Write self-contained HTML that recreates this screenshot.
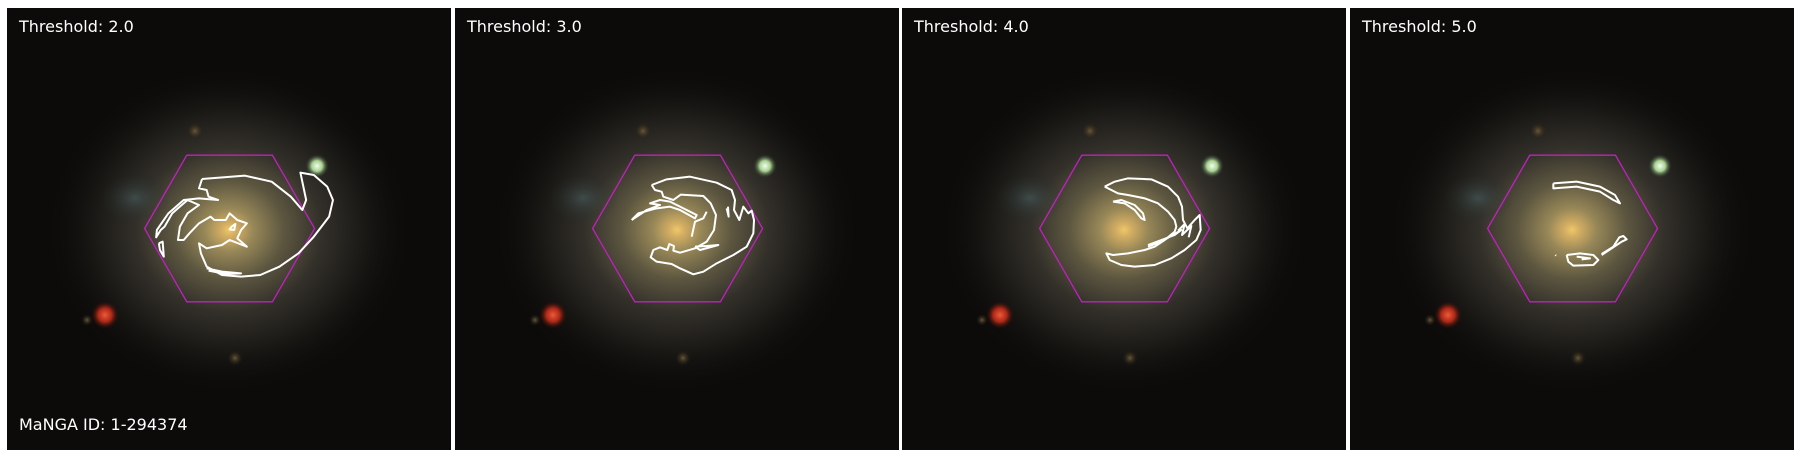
<!DOCTYPE html>
<html><head><meta charset="utf-8">
<style>
html,body{margin:0;padding:0;background:#fff;width:1800px;height:457px;overflow:hidden}
svg{display:block}
text{font-family:"DejaVu Sans","Liberation Sans",sans-serif;font-size:16px;fill:#fff}
</style></head>
<body>
<svg id="fig" width="1800" height="457" viewBox="0 0 1800 457" xmlns="http://www.w3.org/2000/svg">
<defs>
<radialGradient id="gal" cx="0.5" cy="0.5" r="0.5">
<stop offset="0" stop-color="#f0c868"/>
<stop offset="0.04" stop-color="#d4ae62"/>
<stop offset="0.13" stop-color="#988858"/>
<stop offset="0.3" stop-color="#5c5640"/>
<stop offset="0.5" stop-color="#33302a"/>
<stop offset="0.75" stop-color="#181714"/>
<stop offset="1" stop-color="#0c0b0a" stop-opacity="0"/>
</radialGradient>
<radialGradient id="red" r="0.5"><stop offset="0" stop-color="#f05838"/><stop offset="0.5" stop-color="#a82818"/><stop offset="1" stop-color="#300a06" stop-opacity="0"/></radialGradient>
<radialGradient id="grn" r="0.5"><stop offset="0" stop-color="#f0fff0"/><stop offset="0.45" stop-color="#a8d090"/><stop offset="1" stop-color="#203020" stop-opacity="0"/></radialGradient>
<radialGradient id="ylw" r="0.5"><stop offset="0" stop-color="#6a5838"/><stop offset="1" stop-color="#201a10" stop-opacity="0"/></radialGradient>
<radialGradient id="blu" r="0.5"><stop offset="0" stop-color="#4a6060" stop-opacity="0.6"/><stop offset="1" stop-color="#202a2a" stop-opacity="0"/></radialGradient>
</defs>
</svg>
<script>
const thresholds = ["2.0","3.0","4.0","5.0"];
const panelLeft = [7,455,902,1350];
// contours per panel in zoom-crop coordinates
const contours1 = [
 [[528,537],[640,527],[710,545],[760,590],[790,630],[800,600],[785,518],[820,525],[855,560],[870,600],[860,650],[820,710],[780,760],[730,800],[680,825],[630,830],[580,825],[540,800],[525,760],[520,730],[540,745],[580,735],[600,720],[645,740],[620,715],[630,690],[645,670],[620,660],[600,640],[590,660],[560,660],[550,650],[520,670],[495,700],[480,720],[465,720],[470,680],[490,640],[520,615],[490,600],[470,620],[450,640],[430,680],[420,690],[408,712],[410,690],[440,640],[480,600],[520,595],[570,600],[545,590],[540,570],[520,565],[528,537]],
 [[415,730],[425,725],[428,770],[418,750],[415,730]],
 [[540,805],[580,815],[630,820],[590,822],[545,812]],
 [[605,680],[615,672],[612,690],[600,688],[605,680]]
];
const contours2 = [
 [[215,135],[260,118],[330,110],[410,128],[455,150],[465,180],[462,210],[478,240],[490,200],[505,220],[515,212],[522,240],[520,280],[500,320],[460,345],[410,370],[370,395],[340,403],[300,385],[275,372],[230,365],[212,352],[220,330],[240,322],[262,330],[268,312],[282,318],[280,332],[300,338],[345,325],[380,305],[402,270],[408,225],[392,190],[370,168],[302,164],[280,180],[250,170],[245,155],[225,150],[215,135]],
 [[155,240],[175,220],[230,205],[270,200],[300,210],[345,235],[350,225],[300,200],[270,185],[240,180],[210,190],[240,195],[200,210],[155,240]],
 [[335,290],[345,245],[370,235],[380,215]],
 [[345,320],[380,318],[415,315],[360,330],[345,320]],
 [[440,205],[446,230],[444,200]]
];
const contours3 = [
 [[230,140],[260,125],[300,115],[370,118],[420,140],[450,170],[462,200],[465,240],[478,265],[500,240],[515,225],[518,270],[505,300],[470,330],[430,355],[380,375],[320,380],[280,375],[245,360],[235,340],[255,345],[300,340],[350,330],[380,320],[410,300],[440,275],[445,260],[440,240],[420,215],[390,190],[350,175],[300,165],[270,160],[250,150],[230,140]],
 [[255,185],[280,180],[320,195],[345,220],[350,240],[340,235],[320,210],[290,190],[255,185]],
 [[360,315],[400,300],[440,285],[460,270],[400,305],[360,320]],
 [[450,272],[470,252],[462,285],[490,258],[482,292]]
];
const contours4 = [
 [[760,550],[830,545],[900,560],[945,585],[960,610],[940,600],[900,575],[830,560],[760,565],[760,550]],
 [[800,765],[840,760],[880,765],[895,780],[880,795],[820,797],[805,785],[800,765]],
 [[830,770],[870,775],[845,778]],
 [[905,765],[950,735],[965,725],[980,718],[970,708],[958,712],[940,740],[905,762]],
 [[766,765],[768,767]]
];
const allContours = [contours1, contours2, contours3, contours4];
const contourTransforms = ["scale(0.3827,0.33333)","translate(580,140) scale(0.33333)","translate(1028,140) scale(0.33333)","translate(1300,0) scale(0.33333)"];

const NS = "http://www.w3.org/2000/svg";
const svg = document.getElementById('fig');
function mk(tag, attrs, parent){const e=document.createElementNS(NS,tag);for(const k in attrs)e.setAttribute(k,attrs[k]);(parent||svg).appendChild(e);return e;}

const defs = svg.querySelector('defs');
const cp = mk('clipPath',{id:'pclip'},defs);
mk('rect',{x:0,y:0,width:444,height:442},cp);

thresholds.forEach((t,i)=>{
  const g = mk('g',{transform:`translate(${panelLeft[i]},8)`,'clip-path':'url(#pclip)'});
  
  
  const bg = mk('rect',{x:0,y:0,width:444,height:442,fill:'#0c0b0a'},g);
  
  
  mk('ellipse',{cx:222,cy:222,rx:185,ry:165,fill:'url(#gal)'},g);
  mk('ellipse',{cx:128,cy:190,rx:35,ry:25,fill:'url(#blu)'},g);
  const rs = mk('circle',{cx:98,cy:307,r:14,fill:'url(#red)'},g);
  
  
  const gs = mk('circle',{cx:310,cy:158,r:12,fill:'url(#grn)'},g);
  
  
  mk('circle',{cx:188,cy:123,r:9,fill:'url(#ylw)'},g);
  mk('circle',{cx:228,cy:350,r:8,fill:'url(#ylw)'},g);
  mk('circle',{cx:80,cy:312,r:6,fill:'url(#ylw)'},g);
  const cx=222.6, cy=220.5, hw=85, tw=42.8, hh=73.3;
  const hex = mk('polygon',{points:`${cx-hw},${cy} ${cx-tw},${cy-hh} ${cx+tw},${cy-hh} ${cx+hw},${cy} ${cx+tw},${cy+hh} ${cx-tw},${cy+hh}`,fill:'none',stroke:'#c020c0','stroke-width':1.3},g);
  
  
  const tt = mk('text',{x:12,y:24},g);
  tt.textContent = 'Threshold: ' + t;
  
  
  if(i===0){
    const id = mk('text',{x:12,y:422},g);
    id.textContent = 'MaNGA ID: 1-294374';
    
    
  }
  const cg = mk('g',{transform:contourTransforms[i]});
  
  
  allContours[i].forEach(pts=>{
    const p = mk('polyline',{points:pts.map(q=>q.join(',')).join(' '),fill:'none',stroke:'#fff','stroke-width':2,'stroke-linejoin':'round','vector-effect':'non-scaling-stroke'},cg);
    
    
  });
});
</script>
</body></html>
